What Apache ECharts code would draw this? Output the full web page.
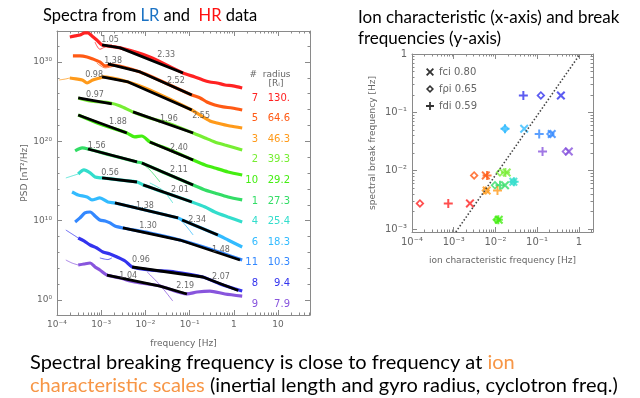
<!DOCTYPE html>
<html>
<head>
<meta charset="utf-8">
<script src="https://cdn.jsdelivr.net/npm/echarts@6/dist/echarts.min.js"></script>
<style>
html, body { margin: 0; padding: 0; background: #fff; }
#main { width: 640px; height: 398px; }
</style>
</head>
<body>
<div id="main"></div>
<script>
// spectra, top to bottom; values are [log10 f (Hz), log10 PSD (nT^2/Hz)]
const specIds = ['7', '5', '3', '2', '10', '1', '4', '6', '11', '8', '9'];
const radii = ['130.', '64.6', '46.3', '39.3', '29.2', '27.3', '25.4', '18.3', '10.3', '9.4', '7.9'];
const specColors = ['#ff2222', '#ff5a14', '#ff9a1a', '#77ee33', '#44ee11', '#33dd66', '#33ddcc', '#33bbff', '#3388ff', '#3333ee', '#8855dd'];

const hr7 = [[-3.71,33.15],[-3.59,33.28],[-3.48,33.40],[-3.37,33.66],[-3.30,33.66],[-3.21,33.28],[-3.10,32.77],[-2.98,32.14],[-2.57,31.77],[-1.90,30.63],[-1.15,28.61],[-0.88,28.11],[-0.70,27.73],[-0.54,27.48],[-0.38,27.35],[-0.20,27.10],[-0.02,26.98],[0.19,26.72]];
const fit7 = [[[-2.98,32.14],[-2.57,31.77],[-1.15,28.61]]];
const lr7 = [[[-3.14,32.50],[-3.03,31.60],[-2.91,31.90],[-2.76,32.20]]];

const hr5 = [[-3.64,30.76],[-3.48,30.76],[-3.32,30.63],[-3.19,30.38],[-3.03,30.00],[-2.91,29.50],[-2.80,29.62],[-2.12,28.74],[-0.95,25.84],[-0.76,25.46],[-0.61,24.96],[-0.43,24.58],[-0.24,24.33],[-0.04,24.20],[0.19,23.95]];
const fit5 = [[[-2.85,29.75],[-2.12,28.74],[-0.95,25.84]]];
const lr5 = [[[-3.10,29.88],[-2.91,29.25],[-2.69,29.50]]];

const hr3 = [[-3.71,27.98],[-3.57,27.86],[-3.43,27.73],[-3.32,27.35],[-3.19,27.73],[-3.03,27.98],[-2.98,28.11],[-2.39,27.48],[-1.90,26.47],[-0.95,23.95],[-0.70,23.07],[-0.54,22.56],[-0.38,22.31],[-0.09,21.93],[0.19,21.68]];
const fit3 = [[[-2.98,28.11],[-2.39,27.48],[-0.95,23.95]]];
const lr3 = [[[-3.95,27.73],[-3.80,27.86],[-3.71,27.98]]];

const hr2 = [[-3.52,25.46],[-3.25,25.08],[-2.80,24.83],[-2.57,24.46],[-2.28,23.70],[-1.90,22.94],[-1.44,22.19],[-0.92,21.05],[-0.65,20.42],[-0.43,19.92],[-0.20,19.54],[0.19,18.91]];
const fit2 = [[[-3.52,25.46],[-2.76,24.71]], [[-2.28,23.70],[-0.92,21.05]]];
const lr2 = [[[-1.90,23.07],[-1.78,22.70],[-1.67,22.30]]];

const hr10 = [[-3.52,23.32],[-3.03,22.19],[-2.42,21.05],[-2.24,20.55],[-2.08,20.67],[-1.90,19.92],[-1.44,18.91],[-0.92,17.65],[-0.65,17.02],[-0.43,16.64],[-0.13,16.14],[0.19,15.76]];
const fit10 = [[[-3.52,23.32],[-2.42,21.05]], [[-1.90,19.92],[-0.92,17.65]]];
const lr10 = [];

const hr1 = [[-3.59,18.78],[-3.43,19.16],[-3.30,19.03],[-2.80,18.28],[-2.19,17.40],[-2.08,17.27],[-1.56,16.01],[-0.92,14.50],[-0.65,13.87],[-0.43,13.49],[-0.13,12.98],[0.19,12.61]];
const fit1 = [[[-3.30,19.03],[-2.19,17.40]], [[-2.08,17.27],[-0.92,14.50]]];
const lr1 = [[[-2.12,17.40],[-1.90,16.40],[-1.67,14.87]]];

const hr4 = [[-3.52,15.88],[-3.39,16.39],[-3.25,16.01],[-3.14,15.50],[-2.98,15.38],[-2.19,14.87],[-2.05,14.50],[-0.95,12.35],[-0.65,11.72],[-0.43,11.09],[-0.13,10.46],[0.19,9.83]];
const fit4 = [[[-2.98,15.38],[-2.19,14.87]], [[-2.05,14.50],[-0.95,12.35]]];
const lr4 = [[[-3.80,15.38],[-3.66,15.63],[-3.52,15.88]], [[-1.90,14.75],[-1.60,13.80],[-1.38,12.23]]];

const hr6 = [[-3.66,13.61],[-3.52,13.24],[-3.32,12.98],[-3.21,12.61],[-3.03,12.86],[-2.85,12.35],[-2.69,12.23],[-1.26,10.34],[-1.17,10.08],[-0.36,8.19],[-0.13,7.56],[0.19,6.68]];
const fit6 = [[[-2.69,12.23],[-1.26,10.34]], [[-1.17,10.08],[-0.36,8.19]]];
const lr6 = [[[-1.22,10.20],[-1.06,9.20],[-0.92,8.19]]];

const hr11 = [[-3.59,9.83],[-3.48,10.34],[-3.37,10.97],[-3.25,11.09],[-3.14,10.59],[-3.03,10.08],[-2.91,9.96],[-2.80,9.71],[-2.69,9.33],[-2.51,9.08],[-1.90,8.45],[-1.22,7.56],[-0.54,6.43],[0.19,5.04]];
const fit11 = [[[-2.51,9.08],[-1.22,7.56],[0.14,5.04]]];
const lr11 = [];

const hr8 = [[-3.52,7.82],[-3.39,7.44],[-3.25,6.93],[-3.10,6.55],[-2.96,6.05],[-2.80,5.80],[-2.64,5.42],[-2.46,4.92],[-2.30,4.16],[-1.90,3.78],[-1.33,3.53],[-0.70,2.90],[-0.31,2.02],[0.19,1.13]];
const fit8 = [[[-2.30,4.16],[-0.70,2.90],[0.10,1.20]]];
const lr8 = [[[-3.80,8.82],[-3.66,8.32],[-3.52,7.82]], [[-3.03,5.30],[-2.85,5.10],[-2.76,5.30]]];

const hr9 = [[-3.52,4.41],[-3.39,4.54],[-3.25,4.66],[-3.14,4.16],[-3.03,3.78],[-2.87,3.15],[-2.57,2.77],[-2.24,2.27],[-1.67,1.76],[-1.06,0.76],[-0.83,1.01],[-0.54,1.13],[-0.20,0.76],[0.19,0.50]];
const fit9 = [[[-2.87,3.15],[-1.67,1.76],[-1.06,0.76]]];
const lr9 = [[[-3.80,5.04],[-3.66,4.66],[-3.52,4.41]], [[-1.96,3.53],[-1.67,1.89],[-1.38,-0.13]]];

const hrCurves = [hr7, hr5, hr3, hr2, hr10, hr1, hr4, hr6, hr11, hr8, hr9];
const fitLines = [fit7, fit5, fit3, fit2, fit10, fit1, fit4, fit6, fit11, fit8, fit9];
const lrCurves = [lr7, lr5, lr3, lr2, lr10, lr1, lr4, lr6, lr11, lr8, lr9];

// spectral index labels [log10 f, log10 PSD, text]
const slopeLabels = [
    [-2.80,32.77,'1.05'], [-1.53,30.88,'2.33'],
    [-2.73,30.13,'1.38'], [-1.31,27.67,'2.52'],
    [-3.16,28.36,'0.98'], [-0.74,23.19,'2.55'],
    [-3.14,25.84,'0.97'], [-1.47,22.82,'1.96'],
    [-2.62,22.44,'1.88'], [-1.24,19.16,'2.40'],
    [-3.10,19.41,'1.56'], [-1.24,16.39,'2.11'],
    [-2.80,16.01,'0.56'], [-1.22,13.87,'2.01'],
    [-2.01,11.85,'1.38'], [-0.83,10.08,'2.34'],
    [-1.94,9.33,'1.30'],  [-0.29,6.30,'1.48'],
    [-2.10,5.04,'0.96'],  [-0.29,2.90,'2.07'],
    [-2.39,3.03,'1.04'],  [-1.10,1.76,'2.19']
];

// right panel: [log10 ion characteristic f, log10 break f], same order as specIds
const fciPts = [[-2.61,-2.56],[-2.23,-2.08],[-2.21,-2.34],[-1.73,-2.03],[-1.92,-2.84],[-1.77,-2.25],[-1.57,-2.19],[-1.31,-1.28],[-0.65,-1.37],[-0.43,-0.71],[-0.24,-1.67]];
const fpiPts = [[-3.81,-2.56],[-2.51,-2.08],[-2.23,-2.34],[-1.89,-2.03],[-1.97,-2.84],[-2.01,-2.25],[-1.57,-2.19],[-1.77,-1.28],[-0.68,-1.37],[-0.91,-0.71],[-0.31,-1.67]];
const fdiPts = [[-3.13,-2.56],[-2.20,-2.08],[-1.95,-2.34],[-1.76,-2.03],[-1.93,-2.84],[-1.89,-2.25],[-1.55,-2.19],[-1.77,-1.28],[-0.95,-1.37],[-1.33,-0.71],[-0.87,-1.67]];
const diagLine = [[-2.95,-3.05],[0.03,0]];
const legendNames = ['fci 0.80', 'fρi 0.65', 'fdi 0.59'];

const AXC = '#8a8a8a', LBL = '#666', SMALL = 'DejaVu Sans';
const SUP = {'-':'⁻','0':'⁰','1':'¹','2':'²','3':'³','4':'⁴','5':'⁵','6':'⁶','7':'⁷','8':'⁸','9':'⁹'};
const pow10 = v => '10' + String(Math.round(v)).split('').map(c => SUP[c]).join('');
const fmtF = v => { v = Math.round(v); return v === 0 ? '1' : v === 1 ? '10' : pow10(v); };

function logMinor(lo, hi) {
    const t = [];
    for (let d = Math.floor(lo); d < hi; d++)
        for (let k = 2; k < 10; k++) { const v = d + Math.log10(k); if (v > lo && v < hi) t.push(v); }
    return t;
}

function makeAxes(dim, grid, min, max, major, minor, fmt, name, nameGap, fs) {
    const sides = dim === 'x' ? ['bottom', 'top'] : ['left', 'right'];
    const out = [];
    sides.forEach((side, i) => {
        const common = { type: 'value', gridIndex: grid, min, max, position: side, splitLine: { show: false } };
        out.push(Object.assign({}, common, {
            axisLine: { show: true, onZero: false, lineStyle: { color: AXC, width: 1 } },
            axisTick: { show: true, inside: true, length: 5, customValues: major, lineStyle: { color: AXC } },
            axisLabel: i ? { show: false } : { show: true, customValues: major, formatter: fmt, color: LBL, fontFamily: SMALL, fontSize: fs, margin: 5 },
            name: i ? '' : name, nameLocation: 'middle', nameGap,
            nameTextStyle: { color: LBL, fontFamily: SMALL, fontSize: 9 }
        }));
        out.push(Object.assign({}, common, {
            axisLine: { show: false, onZero: false },
            axisTick: { show: true, inside: true, length: 2.5, customValues: minor, lineStyle: { color: AXC } },
            axisLabel: { show: false }
        }));
    });
    return out;
}

const psdMinor = [];
for (let v = 0; v < 34; v += 2) if (v % 10) psdMinor.push(v);

const xAxes = makeAxes('x', 0, -4, 1.724, [-4,-3,-2,-1,0,1], logMinor(-4, 1.724), fmtF, 'frequency [Hz]', 24, 9)
    .concat(makeAxes('x', 1, -4, 0.34, [-4,-3,-2,-1,0], logMinor(-4, 0.34), fmtF, 'ion characteristic frequency [Hz]', 24, 10));
const yAxes = makeAxes('y', 0, -1.89, 33.9, [0,10,20,30], psdMinor, pow10, 'PSD [nT²/Hz]', 27, 9)
    .concat(makeAxes('y', 1, -3.05, 0, [-3,-2,-1,0], logMinor(-3.05, 0), v => Math.round(v) === 0 ? '1' : pow10(v), 'spectral break frequency [Hz]', 35, 10));

const series = [];
specIds.forEach((id, i) => {
    const c = specColors[i];
    series.push({ type: 'line', xAxisIndex: 0, yAxisIndex: 0, data: hrCurves[i], smooth: 0.25, showSymbol: false, silent: true, z: 2, lineStyle: { color: c, width: 3.2 } });
    lrCurves[i].forEach(seg => series.push({ type: 'line', xAxisIndex: 0, yAxisIndex: 0, data: seg, smooth: 0.3, showSymbol: false, silent: true, z: 3, lineStyle: { color: c, width: 1, opacity: 0.75 } }));
    fitLines[i].forEach(seg => series.push({ type: 'line', xAxisIndex: 0, yAxisIndex: 0, data: seg, showSymbol: false, silent: true, z: 4, lineStyle: { color: '#000', width: 2.8 } }));
});
series.push({
    type: 'scatter', xAxisIndex: 0, yAxisIndex: 0, data: slopeLabels, symbolSize: 1, z: 5,
    itemStyle: { color: 'transparent' },
    label: { show: true, position: 'inside', formatter: p => p.data[2], color: '#444', fontFamily: SMALL, fontSize: 8 }
});

const X_PATH = 'path://M0,1.6L1.6,0L5,3.4L8.4,0L10,1.6L6.6,5L10,8.4L8.4,10L5,6.6L1.6,10L0,8.4L3.4,5Z';
const D_PATH = 'path://M5,0L10,5L5,10L0,5ZM5,2.7L2.7,5L5,7.3L7.3,5Z';
const P_PATH = 'path://M3.9,0H6.1V3.9H10V6.1H6.1V10H3.9V6.1H0V3.9H3.9Z';

series.push({ type: 'line', xAxisIndex: 4, yAxisIndex: 4, data: diagLine, showSymbol: false, silent: true, lineStyle: { color: '#444', width: 1.6, type: [1.5, 2] } });
[[fciPts, X_PATH, 9], [fpiPts, D_PATH, 9], [fdiPts, P_PATH, 9]].forEach(([pts, sym, size], k) => {
    series.push({
        type: 'scatter', name: legendNames[k], xAxisIndex: 4, yAxisIndex: 4, symbol: sym, symbolSize: size,
        itemStyle: { color: '#000' },
        data: pts.map((p, i) => ({ value: p, itemStyle: { color: specColors[i] } }))
    });
});

const graphic = [
    { type: 'text', x: 43, y: 16, style: { text: '{k|Spectra from }{b|LR}{k| and  }{r|HR}{k| data}', verticalAlign: 'middle',
        rich: { k: { fill: '#000', font: '16.5px Lato' }, b: { fill: '#1a72c4', font: '16.5px Lato' }, r: { fill: '#ff1010', font: '16.5px Lato' } } } },
    { type: 'text', x: 358, y: 18, style: { text: 'Ion characteristic (x-axis) and break', fill: '#000', font: '17px Lato', verticalAlign: 'middle' } },
    { type: 'text', x: 358, y: 39, style: { text: 'frequencies (y-axis)', fill: '#000', font: '17px Lato', verticalAlign: 'middle' } },
    { type: 'text', x: 30, y: 363, style: { text: '{k|Spectral breaking frequency is close to frequency at }{o|ion}', verticalAlign: 'middle',
        rich: { k: { fill: '#000', font: '20px Lato' }, o: { fill: '#f79646', font: '20px Lato' } } } },
    { type: 'text', x: 30, y: 386, style: { text: '{o|characteristic scales}{k| (inertial length and gyro radius, cyclotron freq.)}', verticalAlign: 'middle',
        rich: { k: { fill: '#000', font: '20px Lato' }, o: { fill: '#f79646', font: '20px Lato' } } } },
    { type: 'text', x: 270, y: 75, style: { text: '#  radius', fill: LBL, font: '9px "DejaVu Sans"', align: 'center', verticalAlign: 'middle' } },
    { type: 'text', x: 276, y: 84, style: { text: '[Rᵢ]', fill: LBL, font: '9px "DejaVu Sans"', align: 'center', verticalAlign: 'middle' } }
];
specIds.forEach((id, i) => {
    graphic.push({ type: 'text', x: 258, y: 98 + i * 20.6, style: { text: id, fill: specColors[i], font: '10px "DejaVu Sans"', align: 'right', verticalAlign: 'middle' } });
    graphic.push({ type: 'text', x: 290, y: 98 + i * 20.6, style: { text: radii[i], fill: specColors[i], font: '10px "DejaVu Sans"', align: 'right', verticalAlign: 'middle' } });
});

const chart = echarts.init(document.getElementById('main'));
chart.setOption({
    backgroundColor: '#fff',
    animation: false,
    grid: [
        { left: 57, top: 31, width: 253, height: 284, outerBoundsMode: 'none' },
        { left: 412, top: 54, width: 181, height: 178, outerBoundsMode: 'none' }
    ],
    xAxis: xAxes,
    yAxis: yAxes,
    legend: {
        data: legendNames, left: 421, top: 62, orient: 'vertical', itemWidth: 8, itemHeight: 8, itemGap: 7,
        selectedMode: false, textStyle: { color: LBL, fontFamily: SMALL, fontSize: 10 }
    },
    graphic: graphic,
    series: series
});
</script>
</body>
</html>
